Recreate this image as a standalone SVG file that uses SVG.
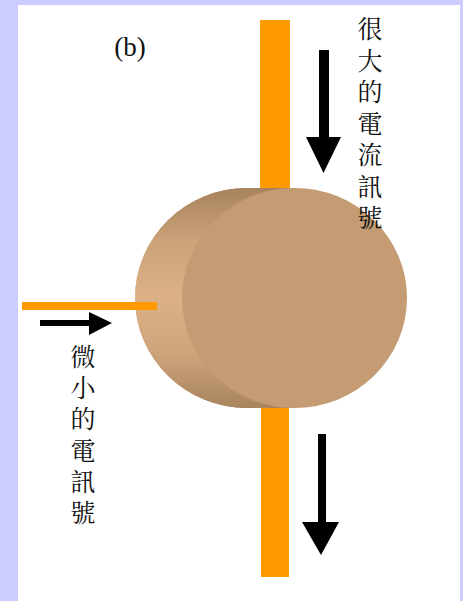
<svg xmlns="http://www.w3.org/2000/svg" width="463" height="601" viewBox="0 0 463 601">
  <style>
    .bar { fill: #FF9900; }
    .arrow { fill: #000000; }
    .cjk { font-family: "Noto Serif CJK TC", "Noto Sans CJK TC", serif; font-size: 25px; fill: #111111; writing-mode: vertical-rl; }
    .label { font-family: "Liberation Serif", serif; font-size: 27px; fill: #111111; text-anchor: middle; }
  </style>
  <defs>
    <linearGradient id="sideShade" x1="0" y1="188" x2="0" y2="410" gradientUnits="userSpaceOnUse">
      <stop offset="0" stop-color="#A7835D"/>
      <stop offset="0.25" stop-color="#CDA37A"/>
      <stop offset="0.5" stop-color="#DCB188"/>
      <stop offset="0.75" stop-color="#CDA37A"/>
      <stop offset="1" stop-color="#A7835D"/>
    </linearGradient>
  </defs>

  <!-- frame -->
  <rect x="0" y="0" width="463" height="601" fill="#CCCCFF"/>
  <rect x="18" y="5" width="442" height="596" fill="#FFFFFF"/>

  <text class="label" x="130" y="56">(b)</text>

  <!-- lead wires -->
  <g id="wires">
    <rect id="wire-top" class="bar" x="260" y="20" width="30" height="175"/>
    <rect id="wire-bottom" class="bar" x="261" y="400" width="28" height="177"/>
  </g>

  <!-- cylindrical body -->
  <g id="cylinder">
    <path d="M247.5,188 L294.5,188 L294.5,408 L247.5,408 A112.5,110 0 0 1 247.5,188 Z" fill="url(#sideShade)"/>
    <ellipse cx="247.5" cy="298" rx="112.5" ry="110" fill="url(#sideShade)"/>
    <ellipse cx="294.5" cy="298" rx="112.5" ry="110" fill="#C49B73"/>
  </g>

  <!-- input wire -->
  <rect id="wire-input" class="bar" x="22" y="302" width="135" height="8"/>

  <g id="connectors">
    <!-- small input signal -->
    <path class="arrow" d="M40,320 L89,320 L89,312 L112,323 L89,335 L89,326 L40,326 Z"/>
    <!-- large current signal, upper -->
    <path class="arrow" d="M319,50 L329,50 L329,137 L341,137 L323.5,173 L306,137 L319,137 Z"/>
    <!-- large current signal, lower -->
    <path class="arrow" d="M318,434 L326,434 L326,522 L339,522 L321,555 L302,522 L318,522 Z"/>
  </g>

  <g id="label-large">
    <text class="cjk" x="370" y="16" letter-spacing="6.5">很大的電流訊號</text>
  </g>

  <g id="label-small">
    <text class="cjk" x="83" y="344" letter-spacing="6.2">微小的電訊號</text>
  </g>
</svg>
